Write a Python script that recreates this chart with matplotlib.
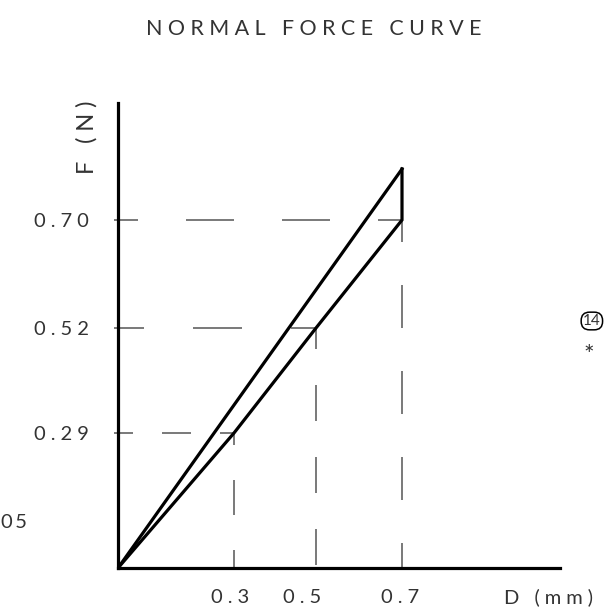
import numpy as np
import matplotlib
matplotlib.use("Agg")
import matplotlib.pyplot as plt
from matplotlib.transforms import ScaledTranslation

plt.rcParams['font.family'] = ['Lato', 'DejaVu Sans']
plt.rcParams['lines.scale_dashes'] = False

# ------------------------------------------------------------------
# data
# ------------------------------------------------------------------
D_TICKS = [0.3, 0.5, 0.7]
D_TICK_LABELS = ['0.3', '0.5', '0.7']
F_TICKS = [0.29, 0.52, 0.70]
F_TICK_LABELS = ['0.29', '0.52', '0.70']

# loading branch, then drop at max travel and unloading branch
LOAD_D = [0.0, 0.7]
LOAD_F = [0.0, 0.80]
UNLOAD_D = [0.7, 0.7, 0.5, 0.3, 0.0]
UNLOAD_F = [0.80, 0.70, 0.52, 0.29, 0.0]

# the original drawing is not to scale: plotted distance (px) of each value from origin
D_ANCHORS = [0.0, 0.3, 0.5, 0.7]
D_ANCHOR_PX = [0, 116, 198, 284]
F_ANCHORS = [0.0, 0.29, 0.52, 0.70, 0.80]
F_ANCHOR_PX = [0, 135, 240, 348, 399]

# dash pattern (px) and start offset (px) for each reference line
H_DASH = [(29, 15), (49, 24), (48, 24)]
V_DASH = [(35, 23), (36, 15), (43, 21)]
# x label shift (px) as placed in the drawing
D_LABEL_SHIFT = [-4, -14, -2]

W, H = 604, 607
TXT = '#333333'
SEP = '\u2005'


def piecewise(xp, fp):
    xp = np.asarray(xp, float)
    fp = np.asarray(fp, float)
    lo = (fp[1] - fp[0]) / (xp[1] - xp[0])
    hi = (fp[-1] - fp[-2]) / (xp[-1] - xp[-2])

    def f(v):
        v = np.asarray(v, float)
        out = np.interp(v, xp, fp)
        out = np.where(v < xp[0], fp[0] + (v - xp[0]) * lo, out)
        out = np.where(v > xp[-1], fp[-1] + (v - xp[-1]) * hi, out)
        return out
    return f


def spaced(s, sep=SEP):
    return sep.join(s)


def px(x, y):
    return x / W, 1 - y / H


def pt(p):
    return p * 0.72


fig = plt.figure(figsize=(W / 100, H / 100), dpi=100)
ax = fig.add_axes([118 / W, 39 / H, 442 / W, 465 / H])

d_fwd, d_inv = piecewise(D_ANCHORS, D_ANCHOR_PX), piecewise(D_ANCHOR_PX, D_ANCHORS)
f_fwd, f_inv = piecewise(F_ANCHORS, F_ANCHOR_PX), piecewise(F_ANCHOR_PX, F_ANCHORS)
ax.set_xscale('function', functions=(d_fwd, d_inv))
ax.set_yscale('function', functions=(f_fwd, f_inv))
ax.set_xlim(0, float(d_inv(442)))
ax.set_ylim(0, float(f_inv(465)))

# dashed reference lines
for d, f, (hp, ho), (vp, vo) in zip(D_TICKS, F_TICKS, H_DASH, V_DASH):
    ax.plot([d, float(d_inv(-4))], [f, f], color='#555555', lw=1.1,
            ls=(pt(ho), (pt(hp), pt(hp))), clip_on=False, zorder=2)
    ax.plot([d, d], [f, 0], color='#555555', lw=1.1,
            ls=(pt(vo), (pt(vp), pt(vp))), clip_on=False, zorder=2)

# force curve
ax.plot(LOAD_D, LOAD_F, color='black', lw=2.3, solid_joinstyle='miter', zorder=3)
ax.plot(UNLOAD_D, UNLOAD_F, color='black', lw=2.3, solid_joinstyle='miter', zorder=3)

for side in ['top', 'right']:
    ax.spines[side].set_visible(False)
for side in ['left', 'bottom']:
    ax.spines[side].set_linewidth(2.3)
    ax.spines[side].set_color('black')

ax.set_xticks(D_TICKS, labels=[spaced(s) for s in D_TICK_LABELS])
ax.set_yticks(F_TICKS, labels=[spaced(s) for s in F_TICK_LABELS])
ax.minorticks_off()
ax.tick_params(axis='x', length=0, pad=15, labelsize=14.5, labelcolor=TXT)
ax.tick_params(axis='y', length=0, pad=21, labelsize=14.5, labelcolor=TXT)
for lbl, dx in zip(ax.get_xticklabels(), D_LABEL_SHIFT):
    lbl.set_transform(lbl.get_transform() + ScaledTranslation(dx / 100, 0, fig.dpi_scale_trans))
ax.patch.set_visible(False)

# titles and axis names
fig.text(*px(314, 29), spaced('NORMAL FORCE CURVE'), fontsize=15.5,
         ha='center', va='center', color=TXT)
fig.text(*px(87, 137), spaced('F (N)'), fontsize=17, rotation=90,
         ha='center', va='center', color=TXT)
fig.text(*px(504, 597), spaced('D (mm)'), fontsize=14.5,
         ha='left', va='center', color=TXT)

# stray annotations from the drawing sheet
fig.text(*px(1, 522), spaced('05', '\u2009'), fontsize=14.5, ha='left', va='center', color=TXT)
fig.text(*px(583, 321), '14', fontsize=11, ha='left', va='center', color=TXT,
         bbox=dict(boxstyle='round,pad=0.12,rounding_size=0.55', fc='white',
                   ec='black', lw=1.1))
fig.text(*px(589, 356), '*', fontsize=18, ha='center', va='center', color=TXT)

fig.savefig('out.png', dpi=100)
